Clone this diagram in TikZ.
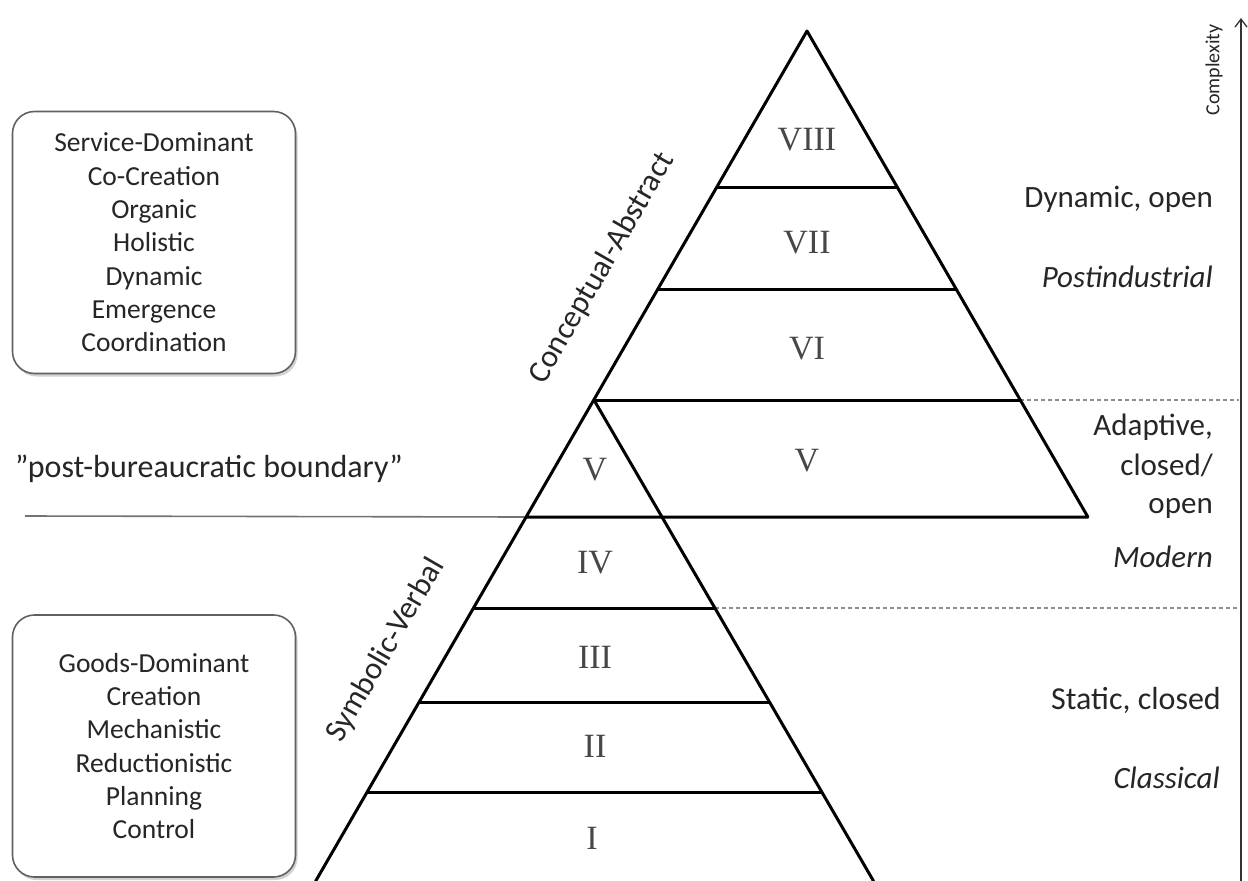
\documentclass[tikz,border=0pt]{standalone}
\usepackage{fontspec}
\setmainfont{Carlito}
\newfontfamily\numfont{Liberation Serif}
\usetikzlibrary{arrows.meta,shadows}

\begin{document}
\begin{tikzpicture}[x=1pt,y=-1pt,
  edge/.style={line width=3pt, line cap=round, line join=round, draw=black},
  dashrule/.style={draw=black!45, line width=1.3pt, dash pattern=on 4pt off 3pt},
  boundary/.style={draw=black!55, line width=1.6pt},
  axisline/.style={draw=black!80, line width=1.3pt, -{Straight Barb[length=8pt,width=12pt]}},
  tier/.style={font=\numfont\fontsize{34}{40}\selectfont, text=black!72, anchor=base, inner sep=0pt},
  infobox/.style={draw=black!62, line width=1.6pt, rounded corners=22pt, fill=white,
    drop shadow={shadow xshift=2pt, shadow yshift=-3pt, opacity=0.35},
    minimum width=283pt, minimum height=262pt, align=center, text=black!85,
    font=\fontsize{27.5}{33.3}\selectfont},
  rlabel/.style={font=\fontsize{31}{38}\selectfont, text=black!85, anchor=base east, inner sep=0pt},
  slabel/.style={font=\fontsize{31.5}{38}\selectfont, text=black!85, inner sep=0pt, rotate=60}
]
\useasboundingbox (0,0) rectangle (1248,881);
\fill[white] (0,0) rectangle (1248,881);

% --- pyramid geometry -------------------------------------------------
\coordinate (apex) at (807,31);
\coordinate (B)    at (594,400);   % apex of the lower triangle
\coordinate (L187) at (716.8,187);  \coordinate (R187) at (897.2,187);
\coordinate (L289) at (657.9,289);  \coordinate (R289) at (956.1,289);
\coordinate (R400) at (1020.3,400);
\coordinate (L517) at (526.1,517);  \coordinate (R517) at (1087.9,517);
\coordinate (M517) at (662,517);
\coordinate (L608) at (473.5,608);  \coordinate (M608) at (714.8,608);
\coordinate (L702) at (419.2,702);  \coordinate (M702) at (769.5,702);
\coordinate (L792) at (367.1,792);  \coordinate (M792) at (821.8,792);
\coordinate (Lbot) at (315.7,881);  \coordinate (Mbot) at (873.5,881);

% complexity axis
\coordinate (axbot) at (1241,881);
\coordinate (axtop) at (1241,18);
\coordinate (ax400) at (1239,400);
\coordinate (ax608) at (1239,608);

% post-bureaucratic boundary start
\coordinate (bstart) at (25,516);

% --- lines ---------------------------------------------------------------
\draw[boundary] (bstart) -- (L517);
\draw[dashrule] (R400) -- (ax400);
\draw[dashrule] (M608) -- (ax608);
\draw[axisline] (axbot) -- (axtop);

\draw[edge] (Lbot) -- (apex) -- (R517) -- (L517);
\draw[edge] (B) -- (Mbot);
\draw[edge] (L187) -- (R187);
\draw[edge] (L289) -- (R289);
\draw[edge] (B) -- (R400);
\draw[edge] (L608) -- (M608);
\draw[edge] (L702) -- (M702);
\draw[edge] (L792) -- (M792);

% --- tier numerals -------------------------------------------------------
\node[tier] (t8)  at (807,150) {VIII};
\node[tier] (t7)  at (807,253) {VII};
\node[tier] (t6)  at (807,359) {VI};
\node[tier] (t5u) at (807,471) {V};
\node[tier] (t5l) at (595,480) {V};
\node[tier] (t4)  at (595,573) {IV};
\node[tier] (t3)  at (595,668) {III};
\node[tier] (t2)  at (595,757) {II};
\node[tier] (t1)  at (592,849) {I};

% --- edge labels -----------------------------------------------------------
\node[slabel] (concept) at (602,268) {Conceptual-Abstract};
\node[slabel] (symbol)  at (386,650) {Symbolic-Verbal};

% --- left boxes -----------------------------------------------------------
\node[infobox] (service) at (154,242.5)
  {Service-Dominant\\Co-Creation\\Organic\\Holistic\\Dynamic\\Emergence\\Coordination};
\node[infobox] (goods) at (154,746)
  {Goods-Dominant\\Creation\\Mechanistic\\Reductionistic\\Planning\\Control};

\node[font=\fontsize{32}{38}\selectfont, text=black!85, anchor=base west, inner sep=0pt]
  (pbb) at (15,477) {”post-bureaucratic boundary”};

% --- right-hand labels ------------------------------------------------------
\node[rlabel] (dyn)    at (1213,207) {Dynamic, open};
\node[rlabel] (post)   at (1213,287) {\itshape Postindustrial};
\node[rlabel] (adapt1) at (1213,435) {Adaptive,};
\node[rlabel] (adapt2) at (1213,475) {closed/};
\node[rlabel] (adapt3) at (1213,513) {open};
\node[rlabel] (modern) at (1213,567) {\itshape Modern};
\node[rlabel, font=\fontsize{32}{38}\selectfont] (static) at (1221,709) {Static, closed};
\node[rlabel] (class)  at (1220,788) {\itshape Classical};

\node[font=\fontsize{20}{24}\selectfont, text=black!85, rotate=90, inner sep=0pt]
  (cmplx) at (1214,70) {Complexity};
\end{tikzpicture}
\end{document}
